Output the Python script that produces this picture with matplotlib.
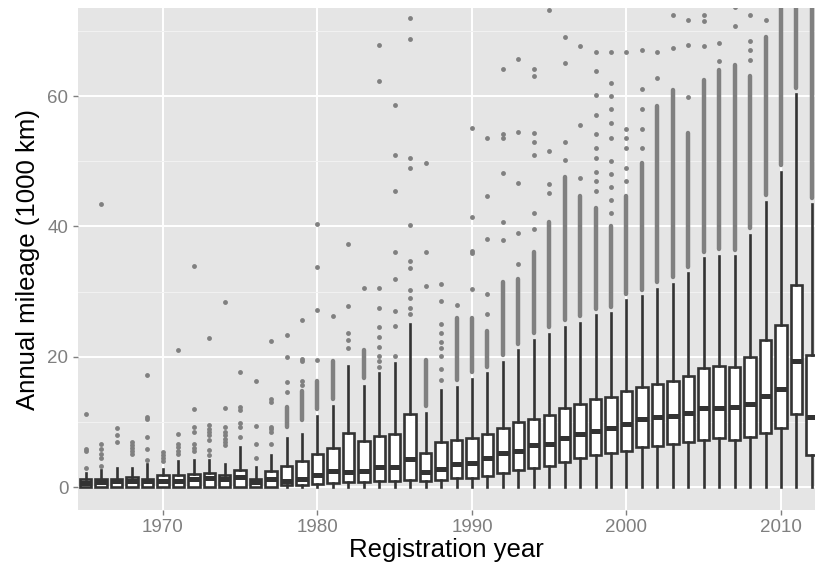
import numpy as np
import matplotlib
matplotlib.use("Agg")
import matplotlib.pyplot as plt

plt.rcParams['font.family'] = ['Liberation Sans', 'DejaVu Sans']

# Box statistics per registration year (annual mileage, 1000 km)
years = list(range(1965, 2013))
q1 = [0.1, 0.1, 0.1, 0.1, 0.1, 0.1, 0.1, 0.1, 0.1, 0.1, 0.1, 0.1, 0.1,
      0.3, 0.4, 0.5, 0.7, 0.8, 0.8, 0.9, 0.9, 1.1, 0.9, 1.1, 1.4, 1.4,
      1.7, 2.2, 2.6, 2.9, 3.2, 3.8, 4.4, 4.9, 5.2, 5.5, 6.2, 6.3, 6.6,
      7.0, 7.3, 7.5, 7.3, 7.7, 8.3, 9.1, 11.3, 4.9]
median = [0.6, 0.8, 0.9, 1.0, 0.9, 1.0, 1.0, 1.2, 1.4, 1.3, 1.6, 0.8, 1.3,
          1.0, 1.3, 1.8, 2.5, 2.4, 2.5, 3.1, 3.1, 4.3, 2.4, 2.8, 3.6, 3.7,
          4.4, 5.3, 5.5, 6.4, 6.7, 7.5, 8.1, 8.6, 9.1, 9.7, 10.4, 10.7, 10.9,
          11.4, 12.2, 12.2, 12.3, 12.7, 14.0, 15.0, 19.3, 10.8]
q3 = [1.2, 1.2, 1.3, 1.6, 1.3, 1.8, 1.8, 2.0, 2.2, 1.9, 2.7, 1.3, 2.5,
      3.3, 4.0, 5.1, 6.0, 8.3, 7.1, 7.8, 8.2, 11.3, 5.2, 6.9, 7.3, 7.5,
      8.1, 9.1, 10.0, 10.4, 11.1, 12.1, 12.7, 13.5, 13.8, 14.8, 15.4, 15.9, 16.3,
      17.1, 18.3, 18.6, 18.5, 20.0, 22.6, 24.9, 31.0, 20.3]
whisker_hi = [2.2, 2.6, 2.9, 3.0, 3.6, 2.8, 4.0, 4.2, 4.1, 3.5, 6.2, 3.1, 5.0,
              7.5, 8.1, 10.9, 12.5, 18.6, 15.5, 17.5, 19.0, 25.0, 11.4, 14.9, 15.4, 16.6,
              17.5, 19.2, 21.0, 22.6, 23.5, 24.6, 25.2, 26.4, 26.7, 28.7, 29.3, 30.4, 31.2,
              32.8, 35.1, 35.5, 35.4, 38.7, 43.8, 48.4, 60.3, 43.4]
whisker_lo = [0.0] * len(years)

# Stretches where outlier dots overlap into a solid column (nan = none)
nan = np.nan
dense_lo = [nan] * 13 + [9.2, 10.3, 12.0, 13.6, nan, 16.7, nan, nan, nan, 12.5, nan, 16.4, 17.6,
                         18.5, 20.2, 22.0, 23.6, 24.5, 25.6, 26.2, 27.4, 27.7, 29.7, 30.3, 31.4, 32.2,
                         33.8, 36.1, 36.5, 36.4, 39.7, 44.8, 49.4, 61.3, 44.4]
dense_hi = [nan] * 13 + [12.3, 14.7, 16.3, 19.4, nan, 21.0, nan, nan, nan, 19.5, nan, 25.9, 26.0,
                         24.0, 31.5, 32.0, 36.0, 40.7, 47.6, 44.6, 42.8, 40.0, 44.6, 49.7, 58.4, 60.9,
                         54.3, 62.5, 64.0, 64.8, 63.0, 69.1, 75.0, 75.0, 75.0]

# Separate outlier points per year
outliers = [
    [2.9, 5.5, 5.9, 11.3],
    [3.2, 4.4, 5.1, 5.8, 6.6, 43.5],
    [6.9, 8.0, 9.1],
    [5.1, 5.5, 6.0, 6.5, 7.0],
    [4.1, 5.9, 7.7, 10.4, 10.8, 17.2],
    [4.0, 4.5, 5.0, 5.4],
    [5.1, 5.6, 6.1, 6.6, 8.2, 21.0],
    [5.5, 6.0, 6.6, 8.5, 9.3, 12.0, 33.9],
    [5.0, 5.7, 7.3, 8.0, 8.5, 9.0, 9.6, 22.9],
    [6.5, 7.0, 7.4, 8.0, 8.5, 9.2, 12.1, 28.4],
    [7.7, 9.2, 9.9, 11.8, 12.3, 17.6],
    [4.4, 6.6, 9.4, 16.3],
    [6.6, 8.5, 8.9, 9.2, 13.1, 13.5, 22.4],
    [14.6, 16.2, 20.0, 23.4],
    [15.6, 16.3, 19.4, 19.6, 25.7],
    [19.5, 27.2, 33.7, 40.4],
    [26.2],
    [21.3, 22.6, 23.7, 27.8, 37.3],
    [30.5],
    [18.5, 19.3, 20.1, 21.5, 23.0, 24.5, 27.5, 30.5, 62.3, 67.8],
    [20.1, 24.7, 27.0, 32.0, 36.1, 45.5, 51.0, 58.6],
    [26.5, 27.5, 29.0, 30.3, 33.6, 34.7, 40.2, 48.9, 50.5, 68.7, 72.0],
    [30.9, 36.0, 49.7],
    [16.5, 18.2, 20.1, 21.3, 22.3, 23.6, 25.1, 28.5, 31.1],
    [28.0],
    [30.4, 35.9, 36.3, 41.5, 55.1],
    [26.5, 29.7, 38.1, 44.7, 53.5],
    [37.9, 40.6, 48.2, 53.5, 54.2, 64.1],
    [34.3, 39.0, 46.7, 54.5, 65.7],
    [39.6, 42.1, 51.0, 53.0, 54.4, 63.1, 64.1],
    [45.1, 46.5, 51.5, 73.2],
    [50.2, 52.9, 65.0, 69.1],
    [47.5, 55.6, 67.7],
    [45.4, 47.0, 48.4, 50.5, 52.0, 54.2, 57.1, 60.2, 63.9, 66.8],
    [42.0, 44.0, 46.0, 48.0, 50.0, 53.5, 55.8, 58.0, 60.0, 62.0, 66.8],
    [47.0, 49.0, 52.0, 53.5, 55.0, 66.7],
    [52.0, 55.0, 58.0, 61.0, 67.1],
    [62.7, 66.8],
    [67.3, 72.4],
    [59.9, 67.8, 71.7],
    [67.6, 71.5, 72.5],
    [65.3, 68.1],
    [70.7, 73.7],
    [65.5, 67.0, 68.5, 72.5],
    [71.7],
    [],
    [],
    [],
]

stats = []
for i, yr in enumerate(years):
    stats.append(dict(med=median[i], q1=q1[i], q3=q3[i],
                      whislo=whisker_lo[i], whishi=whisker_hi[i],
                      fliers=outliers[i]))

fig = plt.figure(figsize=(8.15, 5.71), dpi=100)
ax = fig.add_axes([77.5 / 815, 61 / 571, 737.5 / 815, 502 / 571])
ax.set_facecolor('#E5E5E5')

dark = '#333333'
grey = '#808080'

# dense outlier columns
ax.vlines(years, dense_lo, dense_hi, color=grey, lw=3.2, capstyle='round', zorder=2)

ax.bxp(stats, positions=years, widths=0.74, patch_artist=True, showcaps=False,
       manage_ticks=False,
       boxprops=dict(facecolor='white', edgecolor=dark, linewidth=1.9),
       medianprops=dict(color=dark, linewidth=3.6, solid_capstyle='butt'),
       whiskerprops=dict(color=dark, linewidth=1.9),
       flierprops=dict(marker='o', markersize=3.5, markerfacecolor=grey,
                       markeredgecolor='none'),
       zorder=3)

ax.set_xlim(1964.47, 2012.2)
ax.set_ylim(-3.5, 73.5)
ax.set_xticks([1970, 1980, 1990, 2000, 2010])
ax.set_yticks([0, 20, 40, 60])
ax.set_yticks([10, 30, 50, 70], minor=True)
ax.set_axisbelow(True)
ax.grid(which='major', color='white', lw=1.4)
ax.grid(which='minor', axis='y', color='#F2F2F2', lw=0.7)
for s in ax.spines.values():
    s.set_visible(False)
ax.tick_params(which='major', color='#7F7F7F', length=3.6, width=1.0,
               labelcolor='#7F7F7F', labelsize=13.5, pad=3)
ax.tick_params(which='minor', length=0)

ax.set_xlabel('Registration year', fontsize=18.5, labelpad=1)
ax.set_ylabel('Annual mileage (1000 km)', fontsize=18.5, labelpad=5)

fig.savefig('out.png', dpi=100)
